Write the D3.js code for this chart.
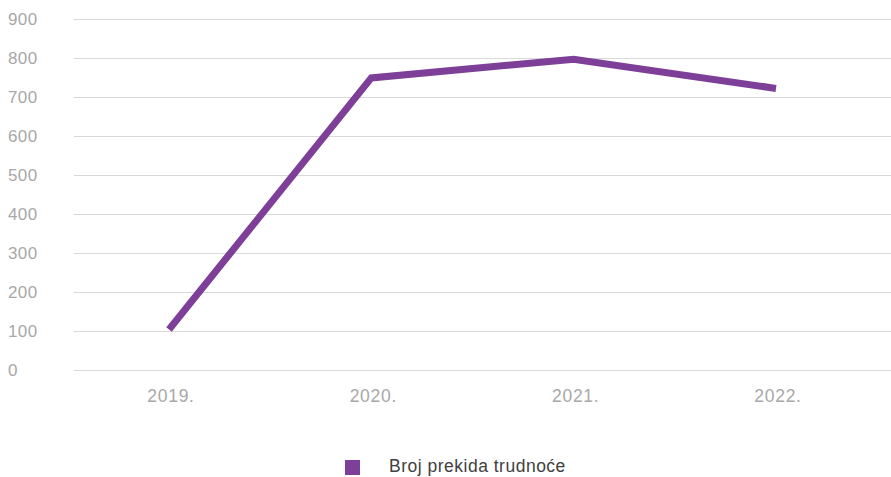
<!DOCTYPE html>
<html>
<head>
<meta charset="utf-8">
<script src="https://cdn.jsdelivr.net/npm/d3@7"></script>
<style>
  body { margin: 0; background: #fff; }
  text { font-family: "Liberation Sans", Arial, sans-serif; }
</style>
</head>
<body>
<div id="chart"></div>
<script>
var years = ["2019.", "2020.", "2021.", "2022."];
var values = [104, 749, 797, 722];
var yTicks = [0, 100, 200, 300, 400, 500, 600, 700, 800, 900];
var seriesName = "Broj prekida trudnoće";

function base(){
    var w = 891;
    var h = 477;
    var purple = "#7d3f98";

    var svg = d3.select("#chart")
        .append("svg")
        .attr("width", w)
        .attr("height", h);

    var x = d3.scalePoint()
        .domain(years)
        .range([169, 776]);

    var y = d3.scaleLinear()
        .domain([0, 900])
        .range([370, 19]);

    // gridlines
    svg.selectAll("line.grid")
        .data(yTicks)
        .enter()
        .append("line")
        .attr("class", "grid")
        .attr("x1", 74)
        .attr("x2", w)
        .attr("y1", function(d) { return Math.round(y(d)) + 0.5; })
        .attr("y2", function(d) { return Math.round(y(d)) + 0.5; })
        .attr("stroke", "#d9d9d9")
        .attr("stroke-width", 1);

    // y labels
    svg.selectAll("text.ylab")
        .data(yTicks)
        .enter()
        .append("text")
        .attr("class", "ylab")
        .attr("x", 8)
        .attr("y", function(d) { return y(d) + 6; })
        .attr("fill", "#a8a8a8")
        .attr("font-size", 17)
        .attr("letter-spacing", 0.4)
        .text(function(d) { return d; });

    // x labels
    svg.selectAll("text.xlab")
        .data(years)
        .enter()
        .append("text")
        .attr("class", "xlab")
        .attr("x", function(d) { return x(d) + 2; })
        .attr("y", 402)
        .attr("text-anchor", "middle")
        .attr("fill", "#a8a8a8")
        .attr("font-size", 17.5)
        .attr("letter-spacing", 0.7)
        .text(function(d) { return d; });

    var line = d3.line()
        .x(function(d, i) { return x(years[i]); })
        .y(function(d) { return y(d); });

    svg.append("path")
        .datum(values)
        .attr("d", line)
        .attr("fill", "none")
        .attr("stroke", purple)
        .attr("stroke-width", 7);

    // legend
    svg.append("rect")
        .attr("x", 345)
        .attr("y", 460)
        .attr("width", 15)
        .attr("height", 15)
        .attr("fill", purple);

    svg.append("text")
        .attr("x", 389)
        .attr("y", 472)
        .attr("fill", "#404040")
        .attr("font-size", 17.5)
        .attr("letter-spacing", 0.5)
        .text(seriesName);
}

window.onload = base;
</script>
</body>
</html>
